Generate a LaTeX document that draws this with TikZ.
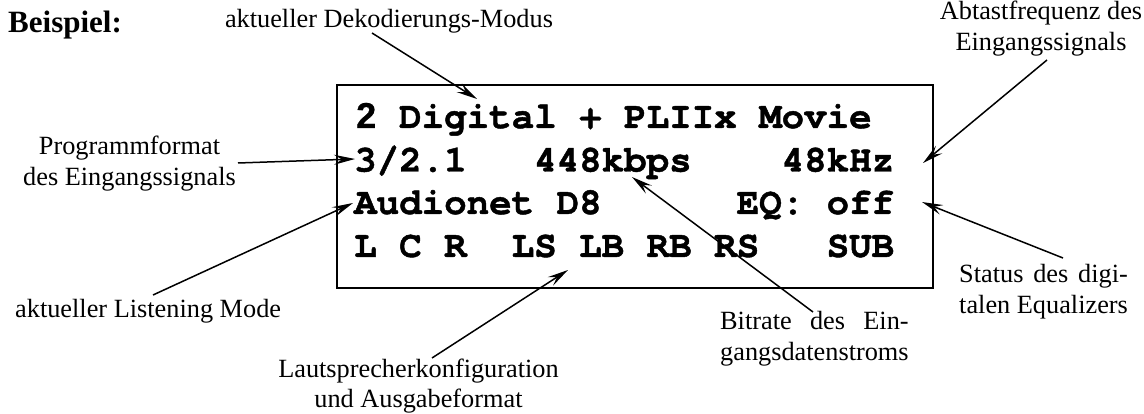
\documentclass[tikz,border=0pt]{standalone}
\usepackage{fontspec}
\usepackage{calc}
\setmainfont{Liberation Serif}
\newfontfamily\dispfont{texgyrecursor}[Extension=.otf, UprightFont=*-regular, BoldFont=*-bold, Ligatures=NoCommon, BoldFeatures={FakeBold=1.2}]
\newfontfamily\digitfont{Liberation Sans}[UprightFont=* Bold, UprightFeatures={FakeBold=0.6}]
\usetikzlibrary{arrows.meta}
\newcommand\bigtwo{\fontsize{36}{36}\selectfont\digitfont 2}
\begin{document}
\begin{tikzpicture}[x=1pt,y=-1pt,
  lbl/.style={inner sep=0pt, font=\fontsize{26.3}{31}\selectfont},
  disp/.style={inner sep=0pt, anchor=base west, font=\dispfont\bfseries\fontsize{37.5}{43}\selectfont},
  displaybox/.style={line width=2pt},
  pointer/.style={line width=1.5pt, -{Stealth[length=21pt,width=10pt,inset=8pt]}}]
\useasboundingbox (0,0) rectangle (1144,414);

% display
\draw[displaybox] (337,85) rectangle (933,288);
\node[disp] (l1) at (354,128) {\makebox[45pt][l]{\hspace{2pt}{\mdseries\bigtwo}}Digital + PLIIx Movie};
\node[disp] (l2) at (354,171.5) {3/2.1\ \ \ 448kbps\ \ \ \ 48kHz};
\node[disp] (l3) at (354,214) {Audionet D8\ \ \ \ \ \ EQ: off};
\node[disp] (l4) at (354,257) {L C R\ \ LS LB RB RS\ \ \ SUB};

% labels
\node[inner sep=0pt, anchor=base west, font=\bfseries\fontsize{31}{36}\selectfont] (bsp) at (8,33) {Beispiel:};
\node[lbl, anchor=base] (dek) at (389,28) {aktueller Dekodierungs-Modus};
\node[lbl, anchor=base] (abt) at (1041,20) {\begin{tabular}[t]{@{}c@{}}Abtastfrequenz des\\Eingangssignals\end{tabular}};
\node[lbl, anchor=base] (prg) at (129.5,155) {\begin{tabular}[t]{@{}c@{}}Programmformat\\des Eingangssignals\end{tabular}};
\node[lbl, anchor=base west] (lst) at (15,317) {aktueller Listening Mode};
\node[lbl, anchor=base] (lsp) at (418.5,377) {\begin{tabular}[t]{@{}c@{}}Lautsprecherkonfiguration\\und Ausgabeformat\end{tabular}};
\node[lbl, anchor=base west] (bit) at (720,330) {\begin{tabular}[t]{@{}l@{}}\makebox[\widthof{gangsdatenstroms}][s]{Bitrate des Ein-}\\gangsdatenstroms\end{tabular}};
\node[lbl, anchor=base west] (sts) at (959,283) {\begin{tabular}[t]{@{}l@{}}\makebox[\widthof{talen Equalizers}][s]{Status des digi-}\\talen Equalizers\end{tabular}};

% connector ends
\coordinate (dekS) at (372,33);   \coordinate (dekT) at (477,99);
\coordinate (prgS) at (238,163);  \coordinate (prgT) at (355,159);
\coordinate (lstS) at (153,295);  \coordinate (lstT) at (353,203);
\coordinate (lspS) at (432,358);  \coordinate (lspT) at (568,270);
\coordinate (bitS) at (813,312);  \coordinate (bitT) at (632,177);
\coordinate (abtS) at (1047,60);  \coordinate (abtT) at (923,163);
\coordinate (stsS) at (1063,258); \coordinate (stsT) at (922,202);

\draw[pointer] (dekS) -- (dekT);
\draw[pointer] (prgS) -- (prgT);
\draw[pointer] (lstS) -- (lstT);
\draw[pointer] (lspS) -- (lspT);
\draw[pointer] (bitS) -- (bitT);
\draw[pointer] (abtS) -- (abtT);
\draw[pointer] (stsS) -- (stsT);
\end{tikzpicture}
\end{document}
